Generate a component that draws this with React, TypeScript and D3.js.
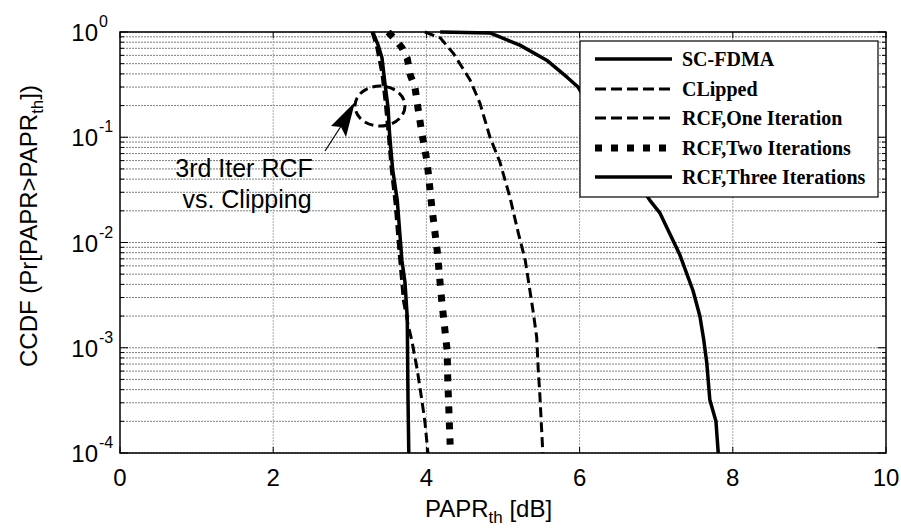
import React from 'react';
import * as d3 from 'd3';

// CCDF curves (x in dB, y probability)
const scX = [4.18, 4.83, 5.22, 5.57, 5.84, 5.98, 6.4, 6.92, 7.05, 7.31, 7.48, 7.57, 7.62, 7.66, 7.7, 7.78, 7.81];
const scY = [1, 0.98, 0.75, 0.54, 0.37, 0.3, 0.093, 0.025, 0.019, 0.0076, 0.0035, 0.002, 0.0012, 0.00072, 0.00032, 0.0002, 0.0001];

const clipX = [3.29, 3.35, 3.42, 3.46, 3.5, 3.54, 3.59, 3.64, 3.7, 3.76, 3.81, 3.88, 3.94, 3.98, 4.02];
const clipY = [1, 0.72, 0.4, 0.22, 0.11, 0.05, 0.024, 0.0085, 0.0028, 0.00166, 0.00117, 0.00062, 0.00032, 0.0002, 0.0001];

const oneX = [3.98, 4.18, 4.35, 4.57, 4.7, 4.83, 4.96, 5.09, 5.2, 5.29, 5.39, 5.44, 5.46, 5.48, 5.52];
const oneY = [1, 0.88, 0.63, 0.35, 0.21, 0.1, 0.058, 0.027, 0.0123, 0.0068, 0.0023, 0.00126, 0.00062, 0.00037, 0.0001];

const twoX = [3.5, 3.6, 3.68, 3.75, 3.79, 3.85, 3.89, 3.94, 4.01, 4.07, 4.14, 4.2, 4.27, 4.28, 4.31];
const twoY = [1, 0.84, 0.71, 0.56, 0.39, 0.3, 0.19, 0.11, 0.058, 0.022, 0.0085, 0.0028, 0.00095, 0.00047, 0.00012];

const threeX = [3.3, 3.37, 3.42, 3.46, 3.5, 3.52, 3.56, 3.62, 3.68, 3.72, 3.75, 3.76, 3.77];
const threeY = [1, 0.75, 0.57, 0.32, 0.19, 0.105, 0.049, 0.025, 0.0068, 0.0042, 0.00195, 0.00032, 0.0001];

const legendLabels = ['SC-FDMA', 'CLipped', 'RCF,One Iteration', 'RCF,Two Iterations', 'RCF,Three Iterations'];
const xTicks = [0, 2, 4, 6, 8, 10];
const yExps = [0, -1, -2, -3, -4];

const W = 901, H = 529;
const L = 120, R = 886, T = 32, B = 453;

const styles = [
  { w: 3.5, dash: null },
  { w: 3, dash: '10,5' },
  { w: 3, dash: '10,5' },
  { w: 7, dash: '7,9' },
  { w: 3.5, dash: null },
];

export default function App() {
  const x = d3.scaleLinear().domain([0, 10]).range([L, R]);
  const y = d3.scaleLog().domain([1e-4, 1]).range([B, T]);

  const series = [
    [scX, scY], [clipX, clipY], [oneX, oneY], [twoX, twoY], [threeX, threeY],
  ];
  const line = d3.line<[number, number]>().x(d => x(d[0])).y(d => y(d[1]));

  const minor: number[] = [];
  for (let e = -4; e < 0; e++) {
    for (let m = 1; m <= 9; m++) minor.push(m * Math.pow(10, e));
  }
  minor.push(1);

  const sans = 'Liberation Sans, Arial, sans-serif';

  const lgX = 580, lgY = 41, lgW = 298, lgH = 156;
  const rowY = [59, 89, 118, 148, 177];

  return (
    <svg width={W} height={H} style={{ position: 'absolute', left: 0, top: 0, background: '#fff' }}>
      <defs>
        <clipPath id="plot">
          <rect x={L} y={T - 2} width={R - L} height={B - T + 2} />
        </clipPath>
      </defs>
      {/* grid */}
      {minor.map((v, i) => (
        <line key={'h' + i} x1={L} x2={R} y1={y(v)} y2={y(v)} stroke="#5c5c5c" strokeWidth={0.8} strokeDasharray="2,1" />
      ))}
      {xTicks.slice(1, -1).map(t => (
        <line key={'v' + t} x1={x(t)} x2={x(t)} y1={T} y2={B} stroke="#a0a0a0" strokeWidth={0.9} strokeDasharray="2,1" />
      ))}
      {/* ticks */}
      {minor.map((v, i) => {
        const major = Math.abs(Math.log10(v) - Math.round(Math.log10(v))) < 1e-9;
        const len = major ? 8 : 4;
        return (
          <g key={'t' + i} stroke="#000" strokeWidth={1}>
            <line x1={L} x2={L + len} y1={y(v)} y2={y(v)} />
            <line x1={R} x2={R - len} y1={y(v)} y2={y(v)} />
          </g>
        );
      })}
      {xTicks.map(t => (
        <g key={'xt' + t} stroke="#000" strokeWidth={1}>
          <line x1={x(t)} x2={x(t)} y1={B} y2={B - 6} />
          <line x1={x(t)} x2={x(t)} y1={T} y2={T + 6} />
        </g>
      ))}
      {/* curves */}
      <g clipPath="url(#plot)" fill="none" stroke="#000">
        {series.map((s, i) => (
          <path
            key={i}
            d={line(s[0].map((v, j) => [v, s[1][j]] as [number, number])) || ''}
            strokeWidth={styles[i].w}
            strokeDasharray={styles[i].dash || undefined}
            strokeLinejoin="round"
          />
        ))}
      </g>
      {/* axes box */}
      <rect x={L} y={T} width={R - L} height={B - T} fill="none" stroke="#000" strokeWidth={1.5} />
      {/* x tick labels */}
      {xTicks.map(t => (
        <text key={'xl' + t} x={x(t)} y={486} textAnchor="middle" fontFamily={sans} fontSize={24}>{t}</text>
      ))}
      {/* y tick labels */}
      {yExps.map(e => (
        <g key={'yl' + e} fontFamily={sans}>
          <text x={98} y={y(Math.pow(10, e)) + 9} textAnchor="end" fontSize={24}>10</text>
          <text x={99} y={y(Math.pow(10, e)) - 5} fontSize={16}>{e === 0 ? '0' : e}</text>
        </g>
      ))}
      {/* axis titles */}
      <text x={425} y={517} fontFamily={sans} fontSize={24}>
        PAPR<tspan fontSize={17} dy={6}>th</tspan><tspan dy={-6}> [dB]</tspan>
      </text>
      <text transform="translate(37,226) rotate(-90)" textAnchor="middle" fontFamily={sans} fontSize={24}>
        CCDF (Pr[PAPR&gt;PAPR<tspan fontSize={17} dy={6}>th</tspan><tspan dy={-6}>])</tspan>
      </text>
      {/* annotation */}
      <ellipse cx={380} cy={106} rx={25} ry={20} fill="none" stroke="#000" strokeWidth={3} strokeDasharray="9,5" />
      <line x1={325} y1={151} x2={345} y2={120} stroke="#000" strokeWidth={1.2} />
      <path d="M355,102 L331,126 L341,127 L346,137 Z" fill="#000" />
      <text x={244} y={177} textAnchor="middle" fontFamily={sans} fontSize={25}>3rd Iter RCF</text>
      <text x={247} y={208} textAnchor="middle" fontFamily={sans} fontSize={25}>vs. Clipping</text>
      {/* legend */}
      <rect x={lgX} y={lgY} width={lgW} height={lgH} fill="#fff" stroke="#000" strokeWidth={1.2} />
      {legendLabels.map((lab, i) => (
        <g key={lab}>
          <line x1={595} x2={672} y1={rowY[i]} y2={rowY[i]} stroke="#000" strokeWidth={styles[i].w}
            strokeDasharray={styles[i].dash ? (i === 3 ? '7,9' : '11,5') : undefined} />
          <text x={682} y={rowY[i] + 7} fontFamily="Liberation Serif, Times New Roman, serif" fontWeight="bold" fontSize={20}>{lab}</text>
        </g>
      ))}
    </svg>
  );
}
